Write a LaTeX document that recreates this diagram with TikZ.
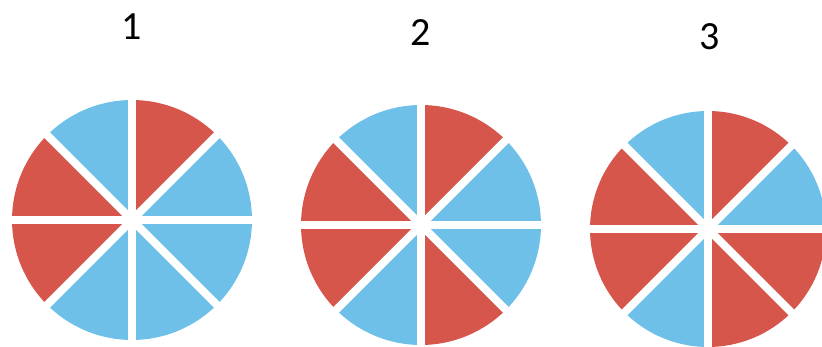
\documentclass[tikz,border=0pt]{standalone}
\usepackage{fontspec}
\setmainfont{Carlito}
\usetikzlibrary{positioning}
\definecolor{wedgered}{RGB}{214,86,76}
\definecolor{wedgeblue}{RGB}{110,192,232}

\begin{document}
\begin{tikzpicture}[x=1pt,y=1pt,
		num node/.style={font=\fontsize{40}{40}\selectfont},
		gap line/.style={white,line width=8pt}]
	\useasboundingbox (0,0) rectangle (822,347);
	\clip (0,0) rectangle (822,347);

	\coordinate (C1) at (132,127);
	\coordinate (C2) at (421,122);
	\coordinate (C3) at (708,118);

	% wedges, start angle / colour
	\foreach \a/\c in {0/wedgeblue,45/wedgered,90/wedgeblue,135/wedgered,
			180/wedgered,225/wedgeblue,270/wedgeblue,315/wedgeblue}
		\fill[\c] (C1) -- ++(\a:120) arc[start angle=\a,delta angle=45,radius=120] -- cycle;
	\foreach \a/\c in {0/wedgeblue,45/wedgered,90/wedgeblue,135/wedgered,
			180/wedgered,225/wedgeblue,270/wedgered,315/wedgeblue}
		\fill[\c] (C2) -- ++(\a:120) arc[start angle=\a,delta angle=45,radius=120] -- cycle;
	\foreach \a/\c in {0/wedgeblue,45/wedgered,90/wedgeblue,135/wedgered,
			180/wedgered,225/wedgeblue,270/wedgered,315/wedgered}
		\fill[\c] (C3) -- ++(\a:118) arc[start angle=\a,delta angle=45,radius=118] -- cycle;

	% white gaps
	\foreach \p in {C1,C2,C3}
		\foreach \a in {0,45,...,315}
			\draw[gap line] (\p) -- ++(\a:125);

	\node[num node] (L1) at (132,320) {1};
	\node[num node] (L2) at (421,314) {2};
	\node[num node] (L3) at (710,310) {3};

\end{tikzpicture}
\end{document}
